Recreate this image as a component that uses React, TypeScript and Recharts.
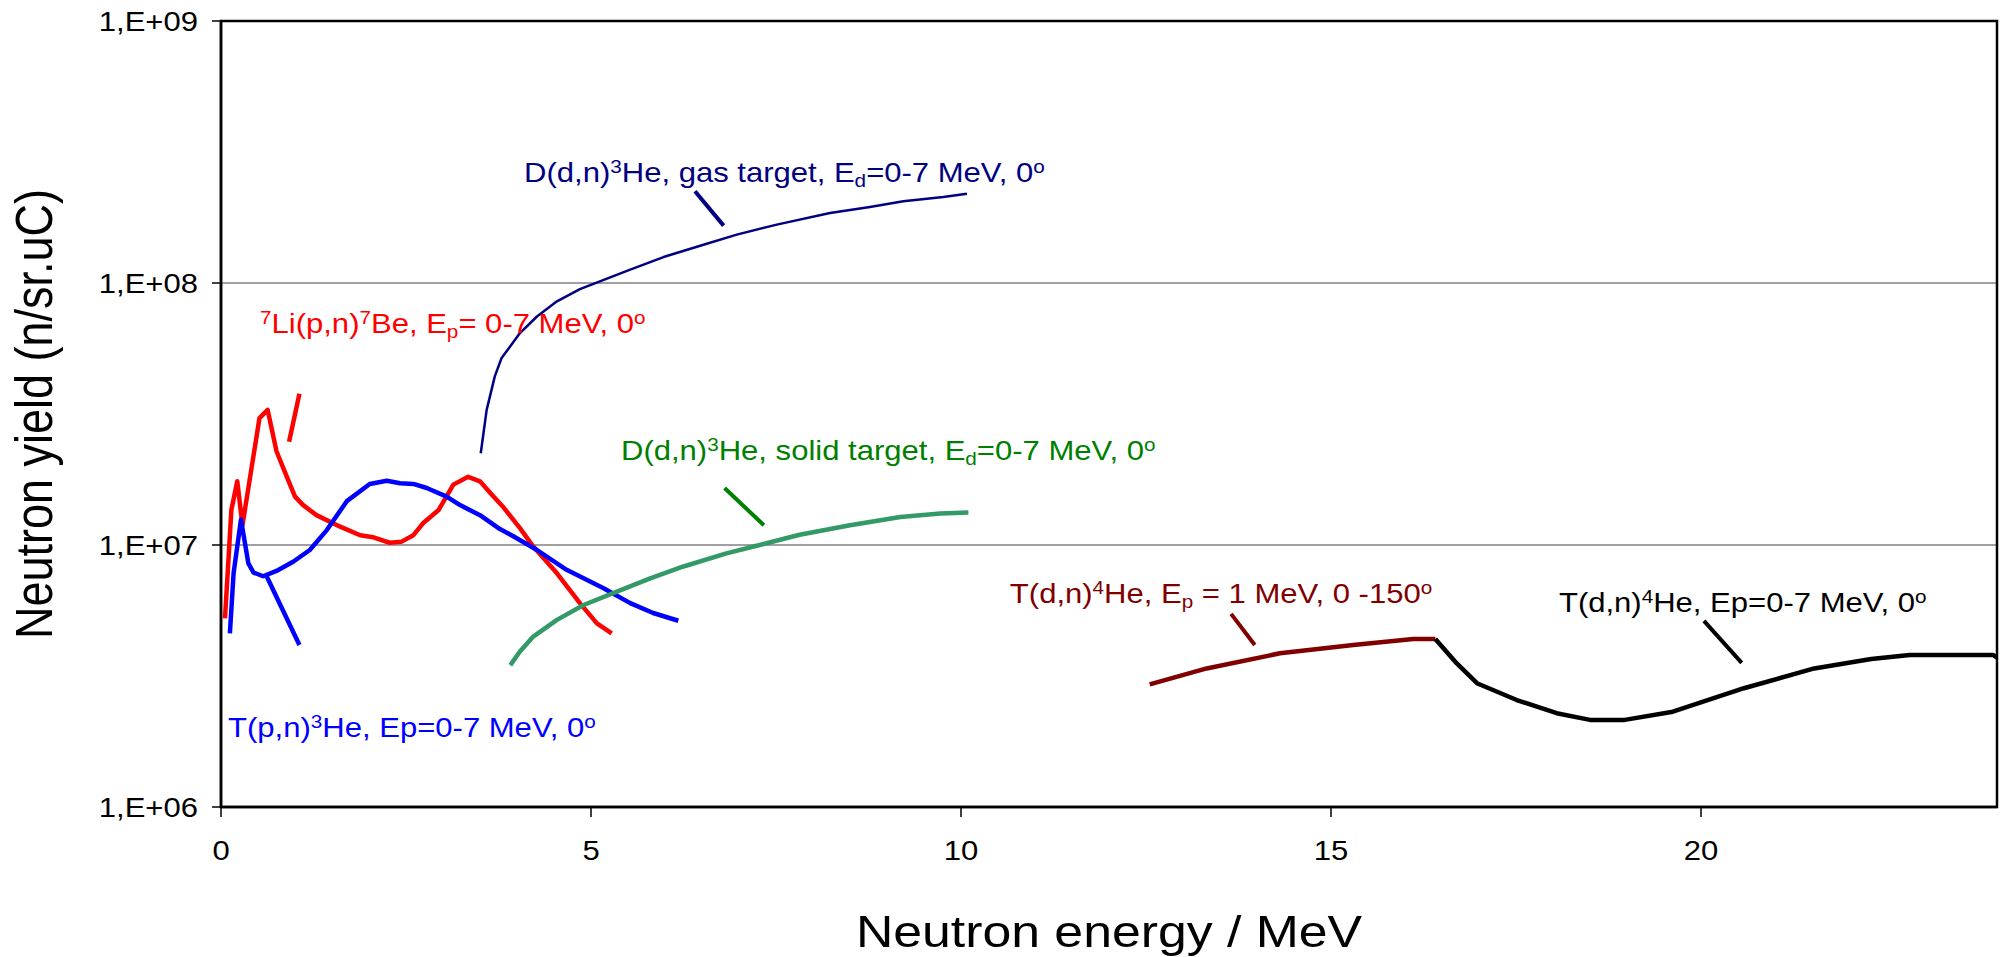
import React from 'react';
import {
  LineChart,
  Line,
  XAxis,
  YAxis,
  CartesianGrid,
  ReferenceArea,
  ReferenceLine,
  ReferenceDot,
} from 'recharts';

// ---------------- data (neutron energy in MeV, yield in n/sr.uC) ----------------
const liEnergy = [0.054, 0.14, 0.22, 0.29, 0.52, 0.63, 0.75, 0.89, 1.0, 1.11, 1.29, 1.61, 1.88, 2.06, 2.28, 2.44, 2.6, 2.73, 2.94, 3.14, 3.34, 3.5, 3.64, 3.81, 4.04, 4.22, 4.54, 4.85, 5.08, 5.28];
const liYield = [5.25e6, 1.36e7, 1.75e7, 1.19e7, 3.05e7, 3.28e7, 2.28e7, 1.82e7, 1.53e7, 1.42e7, 1.3e7, 1.175e7, 1.09e7, 1.07e7, 1.02e7, 1.03e7, 1.09e7, 1.21e7, 1.36e7, 1.7e7, 1.82e7, 1.75e7, 1.58e7, 1.4e7, 1.16e7, 9.86e6, 7.8e6, 6.0e6, 5.02e6, 4.6e6];

const liStubEnergy = [0.92, 1.06];
const liStubYield = [2.48e7, 3.78e7];

const tpEnergy = [0.12, 0.17, 0.27, 0.37, 0.44, 0.57, 0.75, 0.98, 1.2, 1.43, 1.7, 2.01, 2.24, 2.42, 2.6, 2.78, 3.05, 3.23, 3.5, 3.77, 3.95, 4.27, 4.67, 5.17, 5.53, 5.84, 6.18];
const tpYield = [4.6e6, 7.8e6, 1.25e7, 8.5e6, 7.85e6, 7.6e6, 7.96e6, 8.65e6, 9.57e6, 1.14e7, 1.47e7, 1.71e7, 1.76e7, 1.72e7, 1.71e7, 1.65e7, 1.53e7, 1.42e7, 1.3e7, 1.15e7, 1.08e7, 9.57e6, 8.04e6, 6.84e6, 6.0e6, 5.5e6, 5.14e6];

const tpBranchEnergy = [0.62, 1.06];
const tpBranchYield = [7.57e6, 4.15e6];

const ddGasEnergy = [3.51, 3.59, 3.7, 3.79, 4.04, 4.27, 4.54, 4.85, 5.12, 5.53, 5.98, 6.52, 6.97, 7.51, 8.23, 8.77, 9.22, 9.76, 10.08];
const ddGasYield = [2.24e7, 3.28e7, 4.4e7, 5.16e7, 6.44e7, 7.45e7, 8.51e7, 9.48e7, 1.014e8, 1.125e8, 1.256e8, 1.4e8, 1.53e8, 1.67e8, 1.85e8, 1.95e8, 2.05e8, 2.13e8, 2.19e8];

const ddSolidEnergy = [3.91, 4.04, 4.22, 4.54, 4.9, 5.35, 5.8, 6.25, 6.83, 7.28, 7.82, 8.5, 9.18, 9.72, 10.1];
const ddSolidYield = [3.48e6, 3.92e6, 4.47e6, 5.18e6, 5.9e6, 6.64e6, 7.46e6, 8.28e6, 9.29e6, 1.0e7, 1.094e7, 1.19e7, 1.28e7, 1.32e7, 1.33e7];

const td1Energy = [12.55, 13.32, 14.31, 15.3, 16.11, 16.41];
const td1Yield = [2.94e6, 3.38e6, 3.86e6, 4.15e6, 4.38e6, 4.38e6];

const tdEnergy = [16.41, 16.7, 16.98, 17.51, 18.05, 18.5, 18.97, 19.62, 20.58, 21.53, 22.3, 22.82, 23.95, 24.0];
const tdYield = [4.38e6, 3.53e6, 2.96e6, 2.56e6, 2.28e6, 2.15e6, 2.15e6, 2.31e6, 2.84e6, 3.38e6, 3.67e6, 3.8e6, 3.8e6, 3.72e6];

const xTicks = [0, 5, 10, 15, 20];
const yTicks = [1e6, 1e7, 1e8, 1e9];
const yTickLabels = ['1,E+06', '1,E+07', '1,E+08', '1,E+09'];

const xTitle = 'Neutron energy / MeV';
const yTitle = 'Neutron yield (n/sr.uC)';

// ---------------- styling ----------------
const SX = 1.15;
const FONT = '"Liberation Sans", Arial, Helvetica, sans-serif';

const toPoints = (xs: number[], ys: number[]) => xs.map((x, i) => ({ x, y: ys[i] }));

const series = [
  { id: 'li', data: toPoints(liEnergy, liYield), color: '#FF0000', width: 4.5 },
  { id: 'liStub', data: toPoints(liStubEnergy, liStubYield), color: '#FF0000', width: 4.5 },
  { id: 'tp', data: toPoints(tpEnergy, tpYield), color: '#0000FF', width: 4.5 },
  { id: 'tpBranch', data: toPoints(tpBranchEnergy, tpBranchYield), color: '#0000FF', width: 4.5 },
  { id: 'ddSolid', data: toPoints(ddSolidEnergy, ddSolidYield), color: '#339966', width: 4.5 },
  { id: 'ddGas', data: toPoints(ddGasEnergy, ddGasYield), color: '#000080', width: 2.5 },
  { id: 'td1', data: toPoints(td1Energy, td1Yield), color: '#800000', width: 4.5 },
  { id: 'td', data: toPoints(tdEnergy, tdYield), color: '#000000', width: 4.5 },
];

type Part = { t: string; s?: 'sup' | 'sub' };

const labels: { x: number; y: number; color: string; parts: Part[] }[] = [
  {
    x: 4.095, y: 2.44e8, color: '#000080',
    parts: [{ t: 'D(d,n)' }, { t: '3', s: 'sup' }, { t: 'He, gas target, E' }, { t: 'd', s: 'sub' }, { t: '=0-7 MeV, 0' }, { t: 'o', s: 'sup' }],
  },
  {
    x: 0.527, y: 6.46e7, color: '#FF0000',
    parts: [{ t: '7', s: 'sup' }, { t: 'Li(p,n)' }, { t: '7', s: 'sup' }, { t: 'Be, E' }, { t: 'p', s: 'sub' }, { t: '= 0-7 MeV, 0' }, { t: 'o', s: 'sup' }],
  },
  {
    x: 5.405, y: 2.11e7, color: '#008000',
    parts: [{ t: 'D(d,n)' }, { t: '3', s: 'sup' }, { t: 'He, solid target, E' }, { t: 'd', s: 'sub' }, { t: '=0-7 MeV, 0' }, { t: 'o', s: 'sup' }],
  },
  {
    x: 10.66, y: 6.01e6, color: '#800000',
    parts: [{ t: 'T(d,n)' }, { t: '4', s: 'sup' }, { t: 'He, E' }, { t: 'p', s: 'sub' }, { t: ' = 1 MeV, 0 -150' }, { t: 'o', s: 'sup' }],
  },
  {
    x: 18.08, y: 5.55e6, color: '#000000',
    parts: [{ t: 'T(d,n)' }, { t: '4', s: 'sup' }, { t: 'He, Ep=0-7 MeV, 0' }, { t: 'o', s: 'sup' }],
  },
  {
    x: 0.095, y: 1.85e6, color: '#0000FF',
    parts: [{ t: 'T(p,n)' }, { t: '3', s: 'sup' }, { t: 'He, Ep=0-7 MeV, 0' }, { t: 'o', s: 'sup' }],
  },
];

const pointers = [
  { x1: 6.405, y1: 2.24e8, x2: 6.792, y2: 1.656e8, color: '#000080' },
  { x1: 6.805, y1: 1.65e7, x2: 7.336, y2: 1.19e7, color: '#008000' },
  { x1: 13.65, y1: 5.46e6, x2: 13.97, y2: 4.15e6, color: '#800000' },
  { x1: 20.04, y1: 5.13e6, x2: 20.55, y2: 3.55e6, color: '#000000' },
];

// ---------------- components ----------------
function RichText({ cx, cy, color, parts }: { cx: number; cy: number; color: string; parts: Part[] }) {
  let offset = 0;
  const spans = parts.map((p, i) => {
    const target = p.s === 'sup' ? -9 : p.s === 'sub' ? 5 : 0;
    const dy = target - offset;
    offset = target;
    return (
      <tspan key={i} dy={dy} fontSize={p.s ? 18 : 27}>
        {p.t}
      </tspan>
    );
  });
  return (
    <g transform={`translate(${cx},${cy}) scale(${SX},1)`}>
      <text x={0} y={0} fill={color} fontFamily={FONT} fontSize={27} style={{ whiteSpace: 'pre' }}>
        {spans}
      </text>
    </g>
  );
}

function XTick(props: any) {
  const { x, y, payload } = props;
  return (
    <g transform={`translate(${x},${y}) scale(${SX},1)`}>
      <text x={0} y={0} dy="0.71em" textAnchor="middle" fontSize={27} fontFamily={FONT} fill="#000">
        {payload.value}
      </text>
    </g>
  );
}

function YTick(props: any) {
  const { x, y, payload } = props;
  const idx = yTicks.indexOf(payload.value);
  const txt = idx >= 0 ? yTickLabels[idx] : String(payload.value);
  return (
    <g transform={`translate(${x},${y}) scale(${SX},1)`}>
      <text x={0} y={0} dy="0.355em" textAnchor="end" fontSize={27} fontFamily={FONT} fill="#000">
        {txt}
      </text>
    </g>
  );
}

function XTitle(props: any) {
  const vb = props.viewBox || { x: 221, y: 807, width: 1776, height: 150 };
  const cx = vb.x + vb.width / 2;
  const by = vb.y + 140;
  return (
    <g transform={`translate(${cx},${by}) scale(${SX},1)`}>
      <text x={0} y={0} textAnchor="middle" fontSize={45} fontFamily={FONT} fill="#000">
        {xTitle}
      </text>
    </g>
  );
}

function YTitle(props: any) {
  const vb = props.viewBox || { x: 0, y: 21, width: 221, height: 786 };
  const cy = vb.y + vb.height / 2;
  return (
    <g transform={`translate(52,${cy}) scale(${SX},1) rotate(-90)`}>
      <text x={0} y={0} textAnchor="middle" fontSize={45} fontFamily={FONT} fill="#000">
        {yTitle}
      </text>
    </g>
  );
}

export default function App() {
  return (
    <div style={{ position: 'absolute', left: 0, top: 0, width: 2005, height: 957, background: '#fff' }}>
      <LineChart width={2005} height={957} margin={{ top: 21, right: 8, bottom: 0, left: 0 }}>
        <CartesianGrid vertical={false} stroke="#808080" strokeWidth={1.5} />
        <XAxis
          dataKey="x"
          type="number"
          domain={[0, 24]}
          ticks={xTicks}
          allowDataOverflow
          height={150}
          tickSize={10}
          tickMargin={24}
          tick={<XTick />}
          tickLine={{ stroke: '#000', strokeWidth: 1.5 }}
          axisLine={{ stroke: '#000', strokeWidth: 2.5 }}
          label={<XTitle />}
        />
        <YAxis
          type="number"
          scale="log"
          domain={[1e6, 1e9]}
          ticks={yTicks}
          allowDataOverflow
          width={221}
          tickSize={9}
          tickMargin={14}
          tick={<YTick />}
          tickLine={{ stroke: '#000', strokeWidth: 1.5 }}
          axisLine={{ stroke: '#000', strokeWidth: 2.5 }}
          label={<YTitle />}
        />
        <ReferenceArea x1={0} x2={24} y1={1e6} y2={1e9} fill="none" fillOpacity={0} stroke="#000" strokeWidth={2.5} ifOverflow="visible" />
        {series.map((s) => (
          <Line
            key={s.id}
            data={s.data}
            dataKey="y"
            type="linear"
            stroke={s.color}
            strokeWidth={s.width}
            dot={false}
            activeDot={false}
            isAnimationActive={false}
            strokeLinejoin="round"
          />
        ))}
        {pointers.map((p, i) => (
          <ReferenceLine
            key={`p${i}`}
            segment={[{ x: p.x1, y: p.y1 }, { x: p.x2, y: p.y2 }]}
            stroke={p.color}
            strokeWidth={4}
            ifOverflow="visible"
          />
        ))}
        {labels.map((l, i) => (
          <ReferenceDot
            key={`l${i}`}
            x={l.x}
            y={l.y}
            r={1}
            ifOverflow="visible"
            shape={(props: any) => <RichText cx={props.cx} cy={props.cy} color={l.color} parts={l.parts} />}
          />
        ))}
      </LineChart>
    </div>
  );
}
